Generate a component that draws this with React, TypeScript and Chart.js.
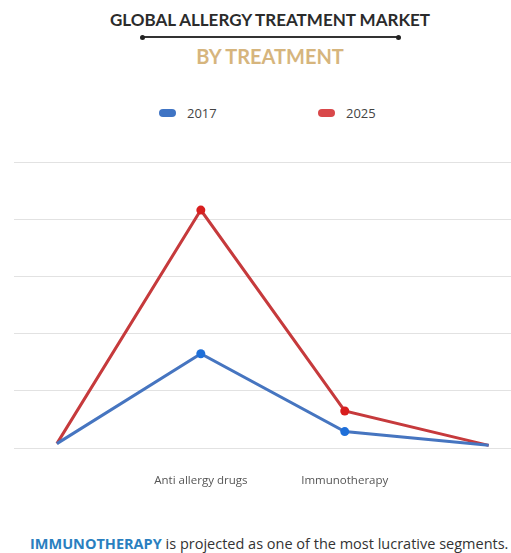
import React, { useEffect, useRef } from "react";
import { Chart, registerables } from "chart.js";

Chart.register(...registerables);

const categories = ["", "Anti allergy drugs", "Immunotherapy", ""];
const series2017 = [0.8, 16.5, 2.9, 0.5];
const series2025 = [0.8, 41.6, 6.5, 0.5];
const yTicks = [0, 10, 20, 30, 40, 50];
const labeledIndexes = [1, 2];

export default function App() {
  const ref = useRef<HTMLCanvasElement | null>(null);

  useEffect(() => {
    document.body.style.margin = "0";
    const ctx = ref.current;
    if (!ctx) return;
    const chart = new Chart(ctx, {
      type: "line",
      data: {
        datasets: [
          {
            label: "2017",
            data: series2017.map((v, i) => ({ x: i, y: v })),
            borderColor: "#4675c0",
            backgroundColor: "#1e6fd9",
            pointBackgroundColor: "#1e6fd9",
            pointBorderWidth: 0,
            pointRadius: series2017.map((_, i) => (labeledIndexes.includes(i) ? 4.5 : 0)),
            borderWidth: 3,
            tension: 0,
          },
          {
            label: "2025",
            data: series2025.map((v, i) => ({ x: i, y: v })),
            borderColor: "#c63a3c",
            backgroundColor: "#d81e1e",
            pointBackgroundColor: "#d81e1e",
            pointBorderWidth: 0,
            pointRadius: series2025.map((_, i) => (labeledIndexes.includes(i) ? 4.5 : 0)),
            borderWidth: 3,
            tension: 0,
          },
        ],
      },
      options: {
        animation: false,
        responsive: false,
        maintainAspectRatio: false,
        layout: { padding: { left: 14, right: 0, top: 12, bottom: 10 } },
        plugins: { legend: { display: false }, tooltip: { enabled: false } },
        scales: {
          x: {
            type: "linear",
            min: -0.298,
            max: 3.155,
            grid: { display: false, drawTicks: false },
            border: { display: false },
            afterBuildTicks: (scale: any) => {
              scale.ticks = labeledIndexes.map((v) => ({ value: v }));
            },
            ticks: {
              padding: 26,
              color: "#555",
              font: { family: "Open Sans", size: 11.5 },
              maxRotation: 0,
              autoSkip: false,
              callback: (v: any) => categories[Number(v)] ?? "",
            },
          },
          y: {
            min: 0,
            max: 50,
            grid: { color: "#e2e2e2", lineWidth: 1, drawTicks: false },
            border: { display: false },
            afterBuildTicks: (scale: any) => {
              scale.ticks = yTicks.map((v) => ({ value: v }));
            },
            ticks: { display: false },
          },
        },
      },
    });
    return () => chart.destroy();
  }, []);

  const pill = (color: string) => (
    <span
      style={{
        display: "inline-block",
        width: 17,
        height: 8,
        borderRadius: 4,
        background: color,
        marginRight: 11,
        verticalAlign: "middle",
      }}
    />
  );

  return (
    <div
      style={{
        position: "fixed",
        left: 0,
        top: 0,
        width: 511,
        height: 553,
        background: "#fff",
        overflow: "hidden",
        fontFamily: "Open Sans",
      }}
    >
      <div
        style={{
          position: "absolute",
          top: 8,
          left: 0,
          width: 540,
          textAlign: "center",
          fontFamily: "Lato",
          fontWeight: 700,
          fontSize: 17,
          color: "#2b2b2b",
          lineHeight: "24px",
        }}
      >
        GLOBAL ALLERGY TREATMENT MARKET
      </div>
      <div style={{ position: "absolute", top: 36, left: 142, width: 256, height: 1.5, background: "#333" }} />
      <div style={{ position: "absolute", top: 34.5, left: 140, width: 5, height: 5, borderRadius: 3, background: "#222" }} />
      <div style={{ position: "absolute", top: 34.5, left: 396, width: 5, height: 5, borderRadius: 3, background: "#222" }} />
      <div
        style={{
          position: "absolute",
          top: 43,
          left: 0,
          width: 540,
          textAlign: "center",
          fontFamily: "Lato",
          fontWeight: 700,
          fontSize: 20,
          color: "#d6b57d",
          lineHeight: "26px",
        }}
      >
        BY TREATMENT
      </div>
      <div
        style={{
          position: "absolute",
          top: 102,
          left: 159,
          fontSize: 13,
          color: "#444",
          lineHeight: "18px",
          whiteSpace: "nowrap",
        }}
      >
        {pill("#3f74c4")}
        <span style={{ verticalAlign: "middle" }}>2017</span>
      </div>
      <div
        style={{
          position: "absolute",
          top: 102,
          left: 318,
          fontSize: 13,
          color: "#444",
          lineHeight: "18px",
          whiteSpace: "nowrap",
        }}
      >
        {pill("#d9484a")}
        <span style={{ verticalAlign: "middle" }}>2025</span>
      </div>
      <canvas
        ref={ref}
        width={511}
        height={374}
        style={{ position: "absolute", left: 0, top: 150, width: 511, height: 374 }}
      />
      <div
        style={{
          position: "absolute",
          top: 535,
          left: 30,
          fontSize: 14.5,
          color: "#333",
          lineHeight: "18px",
          whiteSpace: "nowrap",
        }}
      >
        <span style={{ fontWeight: 700, color: "#2a7fc0" }}>IMMUNOTHERAPY</span> is projected as one of the most lucrative segments.
      </div>
    </div>
  );
}
